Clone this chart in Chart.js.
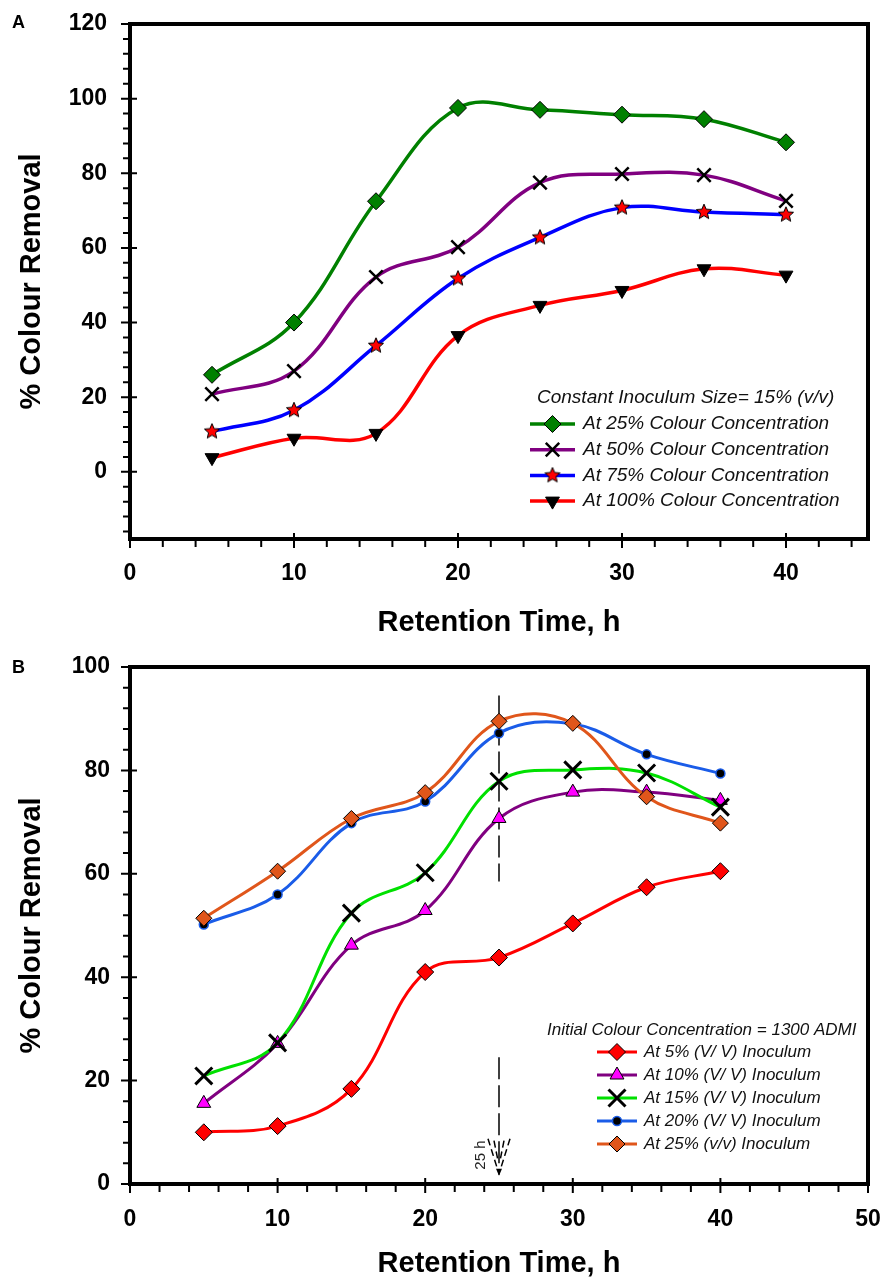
<!DOCTYPE html>
<html>
<head>
<meta charset="utf-8">
<script src="https://cdn.jsdelivr.net/npm/chart.js@4.4.1/dist/chart.umd.min.js"></script>
<style>
  body { margin: 0; background: #fff; }
  canvas { display: block; }
</style>
</head>
<body>
<canvas id="chartA" width="883" height="640"></canvas>
<canvas id="chartB" width="883" height="641"></canvas>
<script>
// panel A - constant inoculum 15%
var hoursA = [5, 10, 15, 20, 25, 30, 35, 40];
var colour25 = [26, 40, 72.5, 97.5, 97, 95.7, 94.5, 88.3];
var colour50 = [20.8, 27, 52.2, 60.2, 77.5, 79.8, 79.5, 72.6];
var colour75 = [10.8, 16.5, 33.8, 51.8, 62.8, 70.8, 69.6, 68.9];
var colour100 = [3.8, 9, 10.3, 36.5, 44.6, 48.6, 54.4, 52.7];
var labelsA = ["At 25% Colour Concentration", "At 50% Colour Concentration", "At 75% Colour Concentration", "At 100% Colour Concentration"];

// panel B - initial colour 1300 ADMI
var hoursB = [5, 10, 15, 20, 25, 30, 35, 40];
var inoc5 = [10, 11.2, 18.4, 41, 43.8, 50.4, 57.4, 60.5];
var inoc10 = [15.6, 27.2, 46.2, 52.9, 70.7, 75.8, 75.8, 74.2];
var inoc15 = [20.9, 27.3, 52.4, 60.2, 77.9, 80.1, 79.5, 72.9];
var inoc20 = [50.2, 56, 69.8, 74, 87.2, 89, 83.1, 79.4];
var inoc25 = [51.4, 60.5, 70.7, 75.7, 89.5, 89.1, 74.9, 69.8];
var labelsB = ["At 5% (V/ V) Inoculum", "At 10% (V/ V) Inoculum", "At 15% (V/ V) Inoculum", "At 20% (V/ V) Inoculum", "At 25% (v/v) Inoculum"];

// the 25 h marker (data units)
var markHour = 25;
var markUpper = [94.5, 58.5];
var markLower = [24.5, 1.8];

var FONT = "'Liberation Sans', Arial, sans-serif";

function pts(xs, ys) {
    var out = [];
    for (var i = 0; i < xs.length; i++) {
        out.push({ x: xs[i], y: ys[i] });
    }
    return out;
}

function makeStar(r) {
    var c = document.createElement("canvas");
    var s = Math.ceil(r * 2 + 4);
    c.width = s;
    c.height = s;
    var g = c.getContext("2d");
    g.beginPath();
    for (var i = 0; i < 10; i++) {
        var rr = i % 2 === 0 ? r : r * 0.45;
        var ang = -Math.PI / 2 + i * Math.PI / 5;
        var px = s / 2 + Math.cos(ang) * rr;
        var py = s / 2 + Math.sin(ang) * rr;
        if (i === 0) g.moveTo(px, py); else g.lineTo(px, py);
    }
    g.closePath();
    g.fillStyle = "#ff0000";
    g.fill();
    g.strokeStyle = "#000";
    g.lineWidth = 1;
    g.stroke();
    return c;
}

function series(label, data, color, style, radius, fill, border, bw, rot, order, lw) {
    return {
        label: label,
        data: data,
        borderColor: color,
        borderWidth: lw,
        tension: 0.38,
        fill: false,
        pointStyle: style,
        pointRadius: radius,
        pointBackgroundColor: fill,
        pointBorderColor: border,
        pointBorderWidth: bw,
        pointRotation: rot,
        order: order
    };
}

// frame, minor/major ticks and the panel letter
var frameTicks = {
    id: "frameTicks",
    afterDraw: function (chart, args, o) {
        var ctx = chart.ctx;
        var a = chart.chartArea;
        var xs = chart.scales.x;
        var ys = chart.scales.y;
        var v, p;
        ctx.save();
        ctx.strokeStyle = "#000";
        ctx.lineWidth = 2;
        ctx.beginPath();
        for (v = o.yFrom; v <= ys.max; v += o.yMinor) {
            p = ys.getPixelForValue(v);
            if (v % o.yMajor === 0) {
                ctx.moveTo(a.left - 9, p); ctx.lineTo(a.left + 7, p);
            } else {
                ctx.moveTo(a.left - 7, p); ctx.lineTo(a.left, p);
            }
        }
        for (v = xs.min; v <= xs.max; v += o.xMinor) {
            p = xs.getPixelForValue(v);
            if (v % o.xMajor === 0) {
                ctx.moveTo(p, a.bottom - 6); ctx.lineTo(p, a.bottom + 9);
            } else {
                ctx.moveTo(p, a.bottom); ctx.lineTo(p, a.bottom + 8);
            }
        }
        ctx.stroke();
        ctx.lineWidth = 4;
        ctx.strokeRect(a.left, a.top, a.right - a.left, a.bottom - a.top);
        ctx.fillStyle = "#000";
        ctx.font = "bold 18px " + FONT;
        ctx.textAlign = "left";
        ctx.textBaseline = "alphabetic";
        ctx.fillText(o.letter, 12, o.letterY);
        ctx.restore();
    }
};

// legend drawn as line + marker like the original
var lineLegend = {
    id: "lineLegend",
    afterDraw: function (chart, args, o) {
        var ctx = chart.ctx;
        var sets = chart.data.datasets;
        ctx.save();
        ctx.fillStyle = "#111";
        ctx.textAlign = "left";
        ctx.textBaseline = "middle";
        ctx.font = "italic " + o.titleSize + "px " + FONT;
        ctx.fillText(o.title, o.titleX, o.titleY);
        ctx.font = "italic " + o.size + "px " + FONT;
        for (var i = 0; i < sets.length; i++) {
            var d = sets[i];
            var y = o.rowY + i * o.rowGap;
            ctx.strokeStyle = d.borderColor;
            ctx.lineWidth = d.borderWidth;
            ctx.beginPath();
            ctx.moveTo(o.lineX1, y);
            ctx.lineTo(o.lineX2, y);
            ctx.stroke();
            ctx.lineWidth = d.pointBorderWidth;
            ctx.strokeStyle = d.pointBorderColor;
            ctx.fillStyle = d.pointBackgroundColor;
            Chart.helpers.drawPoint(ctx, {
                pointStyle: d.pointStyle,
                radius: d.pointRadius,
                rotation: d.pointRotation,
                borderWidth: d.pointBorderWidth
            }, (o.lineX1 + o.lineX2) / 2, y);
            ctx.fillStyle = "#111";
            ctx.fillText(d.label, o.textX, y);
        }
        ctx.restore();
    }
};

// dashed arrow at 25 h in panel B
var mark25 = {
    id: "mark25",
    beforeDatasetsDraw: function (chart) {
        var ctx = chart.ctx;
        var xs = chart.scales.x;
        var ys = chart.scales.y;
        var px = xs.getPixelForValue(markHour);
        var tip = ys.getPixelForValue(markLower[1]);
        ctx.save();
        ctx.strokeStyle = "#000";
        ctx.lineWidth = 1.5;
        ctx.setLineDash([22, 6]);
        ctx.beginPath();
        ctx.moveTo(px, ys.getPixelForValue(markUpper[0]));
        ctx.lineTo(px, ys.getPixelForValue(markUpper[1]));
        ctx.moveTo(px, ys.getPixelForValue(markLower[0]));
        ctx.lineTo(px, tip);
        ctx.stroke();
        ctx.setLineDash([7, 4]);
        ctx.beginPath();
        ctx.moveTo(px - 11, tip - 36); ctx.lineTo(px - 1, tip - 4);
        ctx.moveTo(px - 5, tip - 34); ctx.lineTo(px - 1, tip - 14);
        ctx.moveTo(px + 11, tip - 36); ctx.lineTo(px + 1, tip - 4);
        ctx.moveTo(px + 5, tip - 34); ctx.lineTo(px + 1, tip - 14);
        ctx.stroke();
        ctx.setLineDash([]);
        ctx.fillStyle = "#000";
        ctx.beginPath();
        ctx.moveTo(px - 3, tip - 6);
        ctx.lineTo(px + 3, tip - 6);
        ctx.lineTo(px, tip + 1);
        ctx.closePath();
        ctx.fill();
        ctx.translate(xs.getPixelForValue(23.8), ys.getPixelForValue(5.6));
        ctx.rotate(-Math.PI / 2);
        ctx.font = "15px " + FONT;
        ctx.textAlign = "center";
        ctx.textBaseline = "middle";
        ctx.fillStyle = "#222";
        ctx.fillText("25 h", 0, 0);
        ctx.restore();
    }
};

function axes(xMax, yMin, yMax, yWidth, xHeight, yPad, xPad) {
    var tickFont = { family: FONT, size: 23, weight: "bold" };
    var titleFont = { family: FONT, size: 29, weight: "bold" };
    return {
        x: {
            type: "linear",
            min: 0,
            max: xMax,
            grid: { display: false, drawTicks: false, tickLength: 0 },
            border: { display: false },
            ticks: {
                stepSize: 10,
                padding: xPad,
                color: "#000",
                font: tickFont,
                maxRotation: 0,
                callback: function (v) { return v % 10 === 0 ? v : ""; }
            },
            title: { display: true, text: "Retention Time, h", color: "#000", font: titleFont, padding: { top: 0, bottom: 0 } },
            afterFit: function (s) {
                s.height = xHeight;
                s.paddingLeft = 0;
                s.paddingRight = 0;
            }
        },
        y: {
            min: yMin,
            max: yMax,
            grid: { display: false, drawTicks: false, tickLength: 0 },
            border: { display: false },
            ticks: {
                stepSize: 20,
                padding: yPad,
                color: "#000",
                font: tickFont,
                callback: function (v) { return v % 20 === 0 ? v : ""; }
            },
            title: { display: true, text: "% Colour Removal", color: "#000", font: titleFont, padding: { top: 15, bottom: 0 } },
            afterFit: function (s) {
                s.width = yWidth;
                s.paddingTop = 0;
                s.paddingBottom = 0;
            }
        }
    };
}

var star = makeStar(8);

new Chart(document.getElementById("chartA"), {
    type: "line",
    data: {
        datasets: [
            series(labelsA[0], pts(hoursA, colour25), "#008000", "rectRot", 8.5, "#008000", "#000", 1, 0, 4, 3.5),
            series(labelsA[1], pts(hoursA, colour50), "#800080", "crossRot", 9.5, "#000", "#000", 2.5, 0, 3, 3.5),
            series(labelsA[2], pts(hoursA, colour75), "#0000ff", star, 8, "#ff0000", "#000", 1, 0, 2, 3.5),
            series(labelsA[3], pts(hoursA, colour100), "#ff0000", "triangle", 8, "#000", "#000", 1, 180, 1, 3.5)
        ]
    },
    options: {
        responsive: false,
        animation: false,
        events: [],
        layout: { padding: { left: 0, right: 15, top: 24, bottom: 0 } },
        scales: axes(45, -18, 120, 130, 101, 23, 21),
        plugins: {
            legend: { display: false },
            tooltip: { enabled: false },
            frameTicks: { letter: "A", letterY: 28, xMinor: 2, xMajor: 10, yFrom: -16, yMinor: 4, yMajor: 20 },
            lineLegend: {
                title: "Constant Inoculum Size= 15% (v/v)", titleX: 537, titleY: 398, titleSize: 19,
                size: 19, rowY: 424, rowGap: 25.7, lineX1: 530, lineX2: 575, textX: 583
            }
        }
    },
    plugins: [frameTicks, lineLegend]
});

new Chart(document.getElementById("chartB"), {
    type: "line",
    data: {
        datasets: [
            series(labelsB[0], pts(hoursB, inoc5), "#ff0000", "rectRot", 8.5, "#ff0000", "#000", 1, 0, 5, 3),
            series(labelsB[1], pts(hoursB, inoc10), "#800080", "triangle", 8, "#ff00ff", "#000", 1, 0, 4, 3),
            series(labelsB[2], pts(hoursB, inoc15), "#00e000", "crossRot", 12, "#000", "#000", 3, 0, 3, 3),
            series(labelsB[3], pts(hoursB, inoc20), "#1a5ce8", "circle", 4.5, "#000", "#1a5ce8", 1.5, 0, 2, 3),
            series(labelsB[4], pts(hoursB, inoc25), "#e0561b", "rectRot", 8, "#e0561b", "#000", 1, 0, 1, 3)
        ]
    },
    options: {
        responsive: false,
        animation: false,
        events: [],
        layout: { padding: { left: 0, right: 14, top: 27, bottom: 0 } },
        scales: axes(50, 0, 100, 130, 97, 20, 22),
        plugins: {
            legend: { display: false },
            tooltip: { enabled: false },
            frameTicks: { letter: "B", letterY: 33, xMinor: 2, xMajor: 10, yFrom: 0, yMinor: 4, yMajor: 20 },
            lineLegend: {
                title: "Initial Colour Concentration = 1300 ADMI", titleX: 547, titleY: 390, titleSize: 17,
                size: 17, rowY: 412, rowGap: 23, lineX1: 597, lineX2: 637, textX: 644
            }
        }
    },
    plugins: [frameTicks, lineLegend, mark25]
});
</script>
</body>
</html>
